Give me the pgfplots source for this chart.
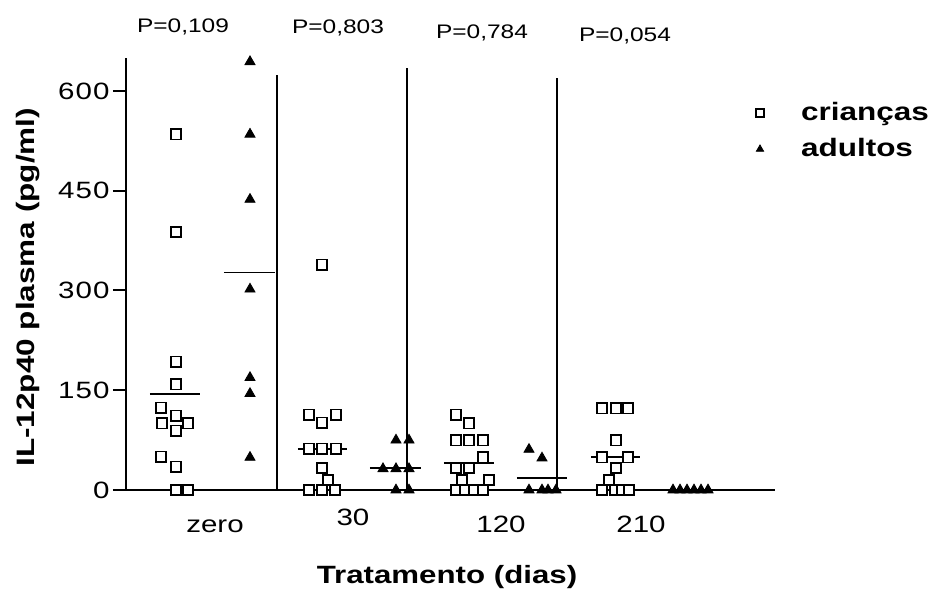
\documentclass[border=0pt]{standalone}
\usepackage{fontspec}
\setmainfont{Liberation Sans}[FakeStretch=1.25]
\usepackage{pgfplots}
\pgfplotsset{compat=1.18}
\pgfplotsset{mylegimg/.style={legend image code/.code={%
  \path[draw=none,fill=none] (0pt,-3pt) rectangle (28pt,3pt);
  \draw[mark repeat=2,mark phase=2,mark size=2.1pt,##1] plot coordinates {(0pt,0pt) (8.5pt,0pt) (28pt,0pt)};}}}

\begin{document}
\begin{tikzpicture}
\begin{axis}[
 x=0.5pt, y=0.3325pt,
 xmin=126, xmax=775, ymin=0, ymax=650,
 axis x line=bottom, axis y line=left,
 axis line style={-, line width=1pt},
 clip=false,
 ytick={0,150,300,450,600},
 xtick={215,353,501,641},
 xticklabels={zero,\raisebox{3.5pt}{30},120,210},
 /pgf/number format/assume math mode=true,
 tick label style={font=\fontsize{11.8}{13}\selectfont},
 yticklabel style={inner sep=1.5pt, font=\fontsize{11.8}{13}\selectfont\addfontfeatures{LetterSpace=5}},
 major tick length=6.5pt,
 tick align=outside,
 ytick style={line width=1pt, black},
 xtick style={draw=none},
 xticklabel style={anchor=base, yshift=-15pt},
 legend style={draw=none, fill=none, at={(axis cs:743,586)}, anchor=north west,
   inner sep=0pt, outer sep=0pt, nodes={inner sep=1pt},
   font=\bfseries\fontsize{12.6}{14}\selectfont, row sep=5.5pt},
 legend cell align=left,
]
% medianas
\addplot[black, line width=0.9pt, forget plot] coordinates {(150,144) (200,144)};
\addplot[black, line width=0.9pt, forget plot] coordinates {(224,327) (275,327)};
\addplot[black, line width=0.9pt, forget plot] coordinates {(298,62) (347,62)};
\addplot[black, line width=0.9pt, forget plot] coordinates {(370,33) (421,33)};
\addplot[black, line width=0.9pt, forget plot] coordinates {(444,41) (494,41)};
\addplot[black, line width=0.9pt, forget plot] coordinates {(517,18) (567,18)};
\addplot[black, line width=0.9pt, forget plot] coordinates {(591,49) (640,49)};
% separadores
\addplot[black, line width=1pt, forget plot] coordinates {(277,0) (277,624)};
\addplot[black, line width=1pt, forget plot] coordinates {(407,0) (407,635)};
\addplot[black, line width=1pt, forget plot] coordinates {(557,0) (557,620)};

\addplot[only marks, mark=square*, mark size=2.6pt,
  mark options={fill=white, draw=black, line width=0.8pt}, mylegimg]
 coordinates {
 (176,535) (176,388) (176,193) (176,159) (161,124) (176,112) (162,100) (188,100)
 (176,89) (161,50) (176,35) (176,0) (188,0)
 (322,339) (309,113) (336,113) (322,101) (309,62) (322,62) (336,62) (322,33)
 (328,15) (309,0) (322,0) (335,0)
 (456,113) (469,100) (456,75) (469,75) (483,75) (483,49) (456,33) (469,33)
 (462,15) (489,15) (456,0) (465,0) (474,0) (483,0)
 (602,123) (616,123) (628,123) (616,75) (602,49) (628,49) (616,33) (609,15)
 (602,0) (615,0) (622,0) (629,0)
 };
\addlegendentry{crianças}
\addplot[only marks, mark=triangle*, mark size=2.9pt, mark options={fill=black, draw=black}, mylegimg]
 coordinates {
 (250,644) (250,535) (250,437) (250,302) (250,169) (250,145) (250,49)
 (396,75) (409,75) (383,32) (396,32) (409,32) (396,0) (409,0)
 (529,61) (542,48) (529,0) (542,0) (548,0) (556,0)
 (673,0) (680,0) (687,0) (694,0) (701,0) (708,0)
 };
\addlegendentry{adultos}

\node[font=\fontsize{9.8}{12}\selectfont] at (axis cs:183,696) {P=0,109};
\node[font=\fontsize{9.8}{12}\selectfont] at (axis cs:338,695) {P=0,803};
\node[font=\fontsize{9.8}{12}\selectfont] at (axis cs:482,687) {P=0,784};
\node[font=\fontsize{9.8}{12}\selectfont] at (axis cs:625,683) {P=0,054};
\node[font=\bfseries\fontsize{12.5}{14}\selectfont] at (axis cs:447,-131) {Tratamento (dias)};
\node[font=\bfseries\fontsize{12.6}{14}\selectfont, rotate=90] at (axis cs:28,305) {IL-12p40 plasma (pg/ml)};

\coordinate (bl) at (axis cs:0,-154.9);
\coordinate (tr) at (axis cs:928,736.8);
\end{axis}
\pgfresetboundingbox
\path[use as bounding box] (bl) rectangle (tr);
\end{tikzpicture}
\end{document}
